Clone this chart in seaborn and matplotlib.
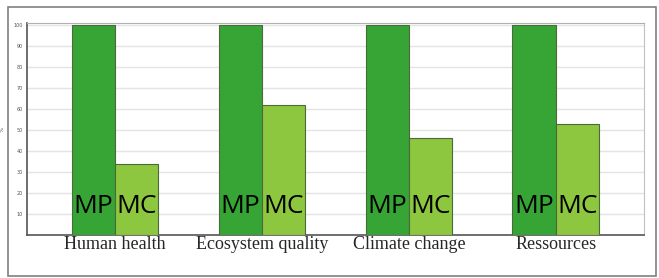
import pandas as pd
import seaborn as sns
import matplotlib.pyplot as plt
from matplotlib.patches import Rectangle

## Data
categories = ['Human health', 'Ecosystem quality', 'Climate change', 'Ressources']
series = ['MP', 'MC']
mp_values = [100, 100, 100, 100]
mc_values = [34, 62, 46, 53]
y_ticks = [10, 20, 30, 40, 50, 60, 70, 80, 90, 100]

df = pd.DataFrame({
    'category': categories * 2,
    'series': [series[0]] * 4 + [series[1]] * 4,
    'value': mp_values + mc_values,
})

sns.set_style('white')
plt.rcParams['font.family'] = ['DejaVu Sans']

fig = plt.figure(figsize=(6.59, 2.78), dpi=100)
ax = fig.add_axes([0.041, 0.155, 0.936, 0.762])

sns.barplot(data=df, x='category', y='value', hue='series',
            palette=['#36a535', '#8dc63f'], saturation=1, width=0.59, gap=0,
            edgecolor='#4a6a3a', linewidth=0.8, legend=False, ax=ax,
            zorder=3)

# big MP / MC labels inside the bars
for container, name in zip(ax.containers, series):
    for bar in container:
        ax.text(bar.get_x() + bar.get_width() / 2, 10.5, name,
                ha='center', va='baseline', fontsize=19,
                family='Open Sans', color='black', zorder=4)

ax.set_xlim(-0.6, 3.6)
ax.set_ylim(0, 101)
ax.set_yticks(y_ticks)
ax.set_yticklabels([str(t) for t in y_ticks], fontsize=3.5, color='#555555')
ax.tick_params(axis='y', length=2, width=0.5, color='#555555', pad=1)
ax.tick_params(axis='x', length=0, pad=1)
for lab in ax.get_xticklabels():
    lab.set_family('Liberation Serif')
    lab.set_fontsize(13)
ax.set_xlabel('')
ax.set_ylabel('%', fontsize=4, color='#555555', labelpad=6)
ax.yaxis.grid(True, color='#e4e4e4', linewidth=1, zorder=0)

ax.spines['left'].set_color('#555555')
ax.spines['bottom'].set_color('#555555')
ax.spines['left'].set_linewidth(1.2)
ax.spines['bottom'].set_linewidth(1.2)
ax.spines['top'].set_color('#b0b0b0')
ax.spines['right'].set_color('#c0c0c0')

# outer frame around the whole chart
fig.patches.append(Rectangle((8 / 659, 2 / 278), 648 / 659, 269 / 278,
                             transform=fig.transFigure, fill=False,
                             edgecolor='#808080', linewidth=1.2))

fig.savefig('out.png', dpi=100)
